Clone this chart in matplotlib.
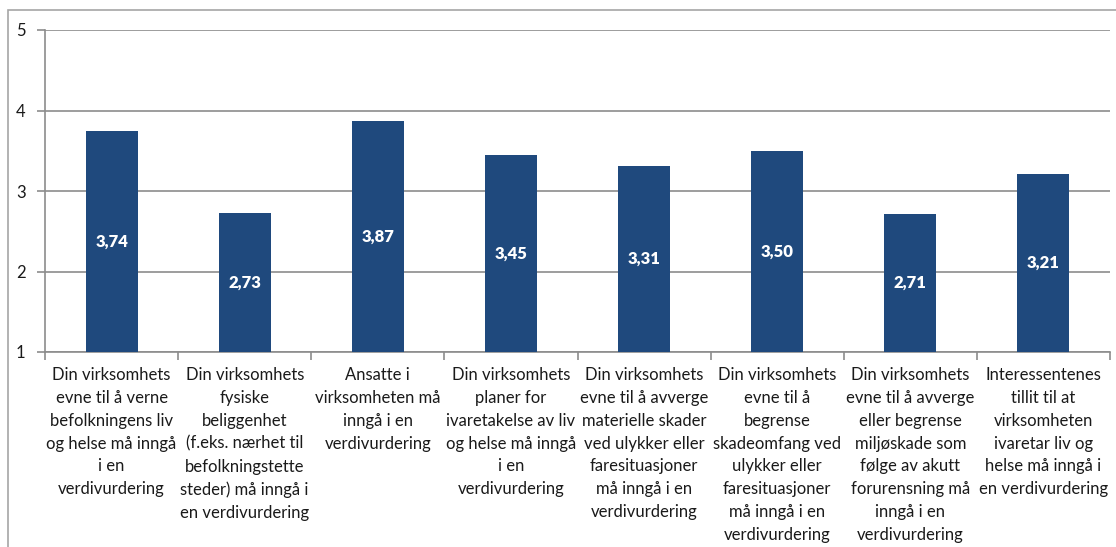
import matplotlib.pyplot as plt
import numpy as np
from matplotlib.patches import Rectangle

plt.rcParams['font.family'] = ['Lato', 'DejaVu Sans']

labels = [
    "Din virksomhets\nevne til å verne\nbefolkningens liv\nog helse må inngå\ni en\nverdivurdering",
    "Din virksomhets\nfysiske\nbeliggenhet\n(f.eks. nærhet til\nbefolkningstette\nsteder) må inngå i\nen verdivurdering",
    "Ansatte i\nvirksomheten må\ninngå i en\nverdivurdering",
    "Din virksomhets\nplaner for\nivaretakelse av liv\nog helse må inngå\ni en\nverdivurdering",
    "Din virksomhets\nevne til å avverge\nmaterielle skader\nved ulykker eller\nfaresituasjoner\nmå inngå i en\nverdivurdering",
    "Din virksomhets\nevne til å\nbegrense\nskadeomfang ved\nulykker eller\nfaresituasjoner\nmå inngå i en\nverdivurdering",
    "Din virksomhets\nevne til å avverge\neller begrense\nmiljøskade som\nfølge av akutt\nforurensning må\ninngå i en\nverdivurdering",
    "Interessentenes\ntillit til at\nvirksomheten\nivaretar liv og\nhelse må inngå i\nen verdivurdering",
]
values = [3.74, 2.73, 3.87, 3.45, 3.31, 3.50, 2.71, 3.21]

W, H = 1116, 547
fig = plt.figure(figsize=(W / 100, H / 100), dpi=100)
ax = fig.add_axes([45 / W, (H - 352) / H, (1110 - 45) / W, (352 - 30) / H])

# ramme rundt hele diagrammet
fig.patches.append(Rectangle((8 / W, -0.05), 1.1, (H - 10) / H + 0.05,
                             transform=fig.transFigure, fill=False,
                             edgecolor='#a6a6a6', linewidth=1.2))

x = np.arange(len(values))
bars = ax.bar(x, values - np.ones(len(values)), bottom=1, width=0.39,
              color='#1f497d', zorder=3)

for xi, v in zip(x, values):
    ax.text(xi, (1 + v) / 2, f"{v:.2f}".replace('.', ','), ha='center', va='center',
            color='white', fontsize=12, fontweight='heavy', zorder=4)

ax.set_xlim(-0.5, len(values) - 0.5)
ax.set_ylim(1, 5)
ax.set_yticks([1, 2, 3, 4, 5])
ax.yaxis.grid(True, color='#8c8c8c', linewidth=1.2, zorder=0)

ax.set_xticks(x)
ax.set_xticklabels(labels, fontsize=12, color='#1a1a1a', linespacing=1.52, va='top')
ax.tick_params(axis='x', which='major', length=0, pad=11)
ax.set_xticks(np.arange(len(values) + 1) - 0.5, minor=True)
ax.tick_params(axis='x', which='minor', length=6, color='#8c8c8c', width=1.2)
ax.tick_params(axis='y', length=6, color='#8c8c8c', width=1.2, labelsize=12,
               labelcolor='#1a1a1a', pad=8)

for side in ['top', 'right']:
    ax.spines[side].set_visible(False)
for side in ['left', 'bottom']:
    ax.spines[side].set_color('#8c8c8c')
    ax.spines[side].set_linewidth(1.2)

fig.savefig('out.png', dpi=100)
